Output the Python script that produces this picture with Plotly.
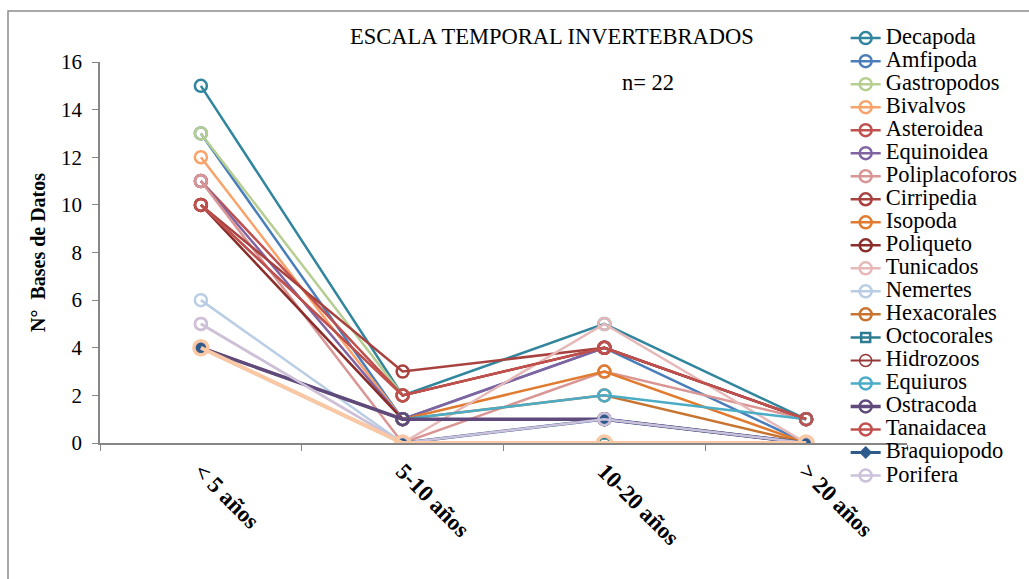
import plotly.graph_objects as go

# Periods on the x axis
categories = ["< 5 años", "5-10 años", "10-20 años", "> 20 años"]

# Number of databases per taxon and period
decapoda = [15, 2, 5, 1]
amfipoda = [13, 1, 4, 0]
gastropodos = [13, 2, 4, 1]
bivalvos = [12, 1, 1, 0]
asteroidea = [11, 2, 4, 1]
equinoidea = [11, 1, 4, 1]
poliplacoforos = [11, 0, 3, 1]
cirripedia = [10, 3, 4, 1]
isopoda = [4, 1, 3, 0]
poliqueto = [10, 1, 1, 0]
tunicados = [5, 0, 5, 0]
nemertes = [6, 0, 0, 0]
hexacorales = [4, 1, 2, 0]
octocorales = [4, 0, 0, 0]
hidrozoos = [10, 2, 4, 1]
equiuros = [4, 1, 2, 1]
ostracoda = [4, 1, 1, 0]
tanaidacea = [10, 2, 4, 1]
braquiopodo = [4, 0, 1, 0]
porifera = [5, 0, 1, 0]
otros = [4, 0, 0, 0]

SERIF = "Liberation Serif, Times New Roman, serif"

# name, values, colour, line width, marker symbol, marker size, marker line width
series = [
    ("Decapoda", decapoda, "#31859C", 2.5, "circle-open", 12, 2.5),
    ("Amfipoda", amfipoda, "#4A7EBB", 2.5, "circle-open", 12, 2.5),
    ("Gastropodos", gastropodos, "#B7CE92", 2.5, "circle-open", 12, 2.5),
    ("Bivalvos", bivalvos, "#F9A36B", 2.5, "circle-open", 12, 2.5),
    ("Asteroidea", asteroidea, "#C0504D", 2.5, "circle-open", 12, 2.5),
    ("Equinoidea", equinoidea, "#8064A2", 2.5, "circle-open", 12, 2.5),
    ("Poliplacoforos", poliplacoforos, "#D99694", 2.5, "circle-open", 12, 2.5),
    ("Cirripedia", cirripedia, "#A8423F", 2.5, "circle-open", 12, 2.5),
    ("Isopoda", isopoda, "#E07B2F", 2.5, "circle-open", 12, 2.5),
    ("Poliqueto", poliqueto, "#8A2E2B", 2.5, "circle-open", 12, 2.5),
    ("Tunicados", tunicados, "#E6B9B8", 2.5, "circle-open", 12, 2.5),
    ("Nemertes", nemertes, "#B9CDE5", 2.5, "circle-open", 12, 2.5),
    ("Hexacorales", hexacorales, "#C77430", 2.5, "circle-open", 12, 2.5),
    ("Octocorales", octocorales, "#2C7C92", 2.5, "square-open", 9, 2.5),
    ("Hidrozoos", hidrozoos, "#953735", 2.0, "circle-open", 12, 1.5),
    ("Equiuros", equiuros, "#4BACC6", 2.5, "circle-open", 12, 2.5),
    ("Ostracoda", ostracoda, "#604A7B", 3.5, "circle-open", 12, 2.5),
    ("Tanaidacea", tanaidacea, "#C0504D", 2.5, "circle-open", 12, 2.5),
    ("Braquiopodo", braquiopodo, "#2F5B8C", 3.0, "diamond", 10, 0),
    ("Porifera", porifera, "#CCC1DA", 2.5, "circle-open", 12, 2.5),
    ("Otros", otros, "#FAC8A4", 4.0, "circle-open", 14, 3.5),
]

fig = go.Figure()
for name, vals, color, lw, sym, msize, mlw in series:
    fig.add_trace(go.Scatter(
        x=categories, y=vals, mode="lines+markers",
        name=f"<span style='font-size:22.5px'>{name}</span>",
        showlegend=(name != "Otros"),
        line=dict(color=color, width=lw),
        marker=dict(symbol=sym, size=msize, color=color,
                    line=dict(color=color, width=mlw)),
        hoverinfo="skip",
    ))

fig.update_layout(
    width=1029, height=579,
    margin=dict(l=100, r=122, t=62, b=136, autoexpand=False),
    paper_bgcolor="white", plot_bgcolor="white",
    font=dict(family=SERIF, color="black", size=20),
    showlegend=True,
    legend=dict(
        x=0.924, xanchor="left", y=1.106, yanchor="top",
        font=dict(family=SERIF, size=15.4, color="black"),
        bgcolor="rgba(0,0,0,0)", tracegroupgap=0,
        itemwidth=30, maxheight=560,
    ),
    xaxis=dict(
        type="category", showgrid=False, showline=True,
        linecolor="#868686", linewidth=1.5,
        ticks="outside", tickson="boundaries", ticklen=6, tickcolor="#868686",
        tickangle=45, ticklabelstandoff=4,
        tickfont=dict(family=SERIF, size=23, color="black", weight="bold"),
        range=[-0.5, 3.5],
    ),
    yaxis=dict(
        range=[0, 16], dtick=2, showgrid=False, showline=True,
        linecolor="#868686", linewidth=1.5,
        ticks="outside", ticklen=6, tickcolor="#868686",
        ticklabelstandoff=6,
        tickfont=dict(family=SERIF, size=21, color="black"),
        title=dict(text="N°  Bases de Datos", standoff=10,
                   font=dict(family=SERIF, size=20, color="black", weight="bold")),
        zeroline=False,
    ),
    annotations=[
        dict(text="ESCALA TEMPORAL INVERTEBRADOS", xref="paper", yref="paper",
             x=0.56, y=1.068, xanchor="center", yanchor="middle",
             showarrow=False, font=dict(family=SERIF, size=22.5, color="black")),
        dict(text="n= 22", xref="paper", yref="paper",
             x=0.679, y=0.945, xanchor="center", yanchor="middle",
             showarrow=False, font=dict(family=SERIF, size=22.5, color="black")),
    ],
    shapes=[
        dict(type="rect", xref="paper", yref="paper",
             x0=-0.114, x1=1.3, y0=-0.6, y1=1.134,
             line=dict(color="#8C8C8C", width=1.5), layer="below"),
    ],
)

fig.write_html("out.html")
